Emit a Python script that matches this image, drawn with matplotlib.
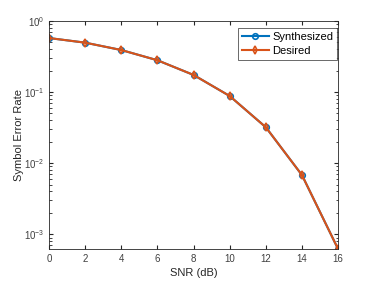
import matplotlib
matplotlib.use("Agg")
import matplotlib.pyplot as plt
import numpy as np

snr = [0, 2, 4, 6, 8, 10, 12, 14, 16]
synthesized = [0.575, 0.495, 0.39, 0.28, 0.174, 0.088, 0.032, 0.0068, 0.00062]
desired = [0.575, 0.495, 0.39, 0.28, 0.174, 0.088, 0.032, 0.0068, 0.00062]
xticks = [0, 2, 4, 6, 8, 10, 12, 14, 16]

plt.rcParams['font.family'] = ['Liberation Sans', 'DejaVu Sans']
fig = plt.figure(figsize=(3.74, 2.83), dpi=100)
ax = fig.add_axes([0.131, 0.12, 0.773, 0.806])
ax.plot(snr, synthesized, '-o', color='#0072BD', lw=1.5, ms=4, mfc='none', mew=1.2, label='Synthesized')
ax.plot(snr, desired, '-d', color='#D95319', lw=1.5, ms=4, mfc='none', mew=1.2, label='Desired')
ax.set_yscale('log')
ax.set_xlim(0, 16)
ax.set_ylim(6.2e-4, 1)
ax.set_xticks(xticks)
ax.set_xticklabels([str(t) for t in xticks])
ax.tick_params(which='both', direction='in', top=True, right=True, labelsize=7, colors='#262626', length=3)
ax.tick_params(which='both', labelcolor='#404040')
ax.tick_params(which='minor', length=1.8)
for s in ax.spines.values():
    s.set_color('#262626')
    s.set_linewidth(0.6)
ax.set_xlabel('SNR (dB)', fontsize=8, color='#262626', labelpad=3)
ax.set_ylabel('Symbol Error Rate', fontsize=8, color='#262626', labelpad=0)
leg = ax.legend(loc='upper right', fontsize=8, frameon=True, fancybox=False, borderpad=0.35,
                handlelength=2.4, handletextpad=0.3, labelspacing=0.35, borderaxespad=0,
                bbox_to_anchor=(337/374, 1-28/283), bbox_transform=fig.transFigure)
leg.get_frame().set_edgecolor('#262626')
leg.get_frame().set_linewidth(0.6)
fig.savefig('out.png', dpi=100)
